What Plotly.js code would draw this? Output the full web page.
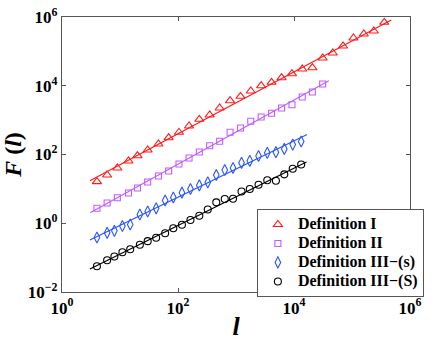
<!DOCTYPE html>
<html>
<head>
<meta charset="utf-8">
<script src="https://cdn.plot.ly/plotly-3.0.1.min.js"></script>
<style>
  html, body { margin: 0; padding: 0; background: #fff; }
  #chart { width: 436px; height: 341px; }
</style>
</head>
<body>
<div id="chart"></div>
<script>
// Definition I and II share the same window sizes
const xDef12 = [4, 6, 9, 14, 20, 30, 46, 69, 104, 155, 233, 352, 523, 791, 1195, 1797, 2716, 4103, 6107, 9220,
  13880, 20730, 31200, 46600, 70100, 106000, 160000, 238000, 360000];
const yDef1 = [16.2, 25.3, 40.5, 64.7, 92.3, 135, 202, 308, 443, 675, 1057, 1410, 2254, 3673, 4933, 7037, 10030,
  12600, 17150, 22420, 30700, 33500, 64200, 89700, 143300, 245000, 320000, 391500, 701000];
const yDef2 = [2.72, 3.88, 5.54, 7.59, 10.6, 15.8, 23.7, 33.1, 52.9, 79.1, 118, 180, 242, 443, 590, 925, 1233,
  1580, 2254, 2812, 4710, 6577, 11250];

// Definition III-(s) and III-(S)
const xDef3 = [4, 6, 8, 11, 15, 22, 30, 42, 60, 83, 117, 164, 233, 326, 457, 640, 888, 1246, 1729, 2447, 3461,
  4877, 6802, 9510, 13300];
const yDef3s = [0.385, 0.527, 0.603, 0.832, 0.920, 1.80, 2.20, 2.72, 4.59, 5.61, 7.74, 9.91, 12.7, 15.5, 25.3,
  35.4, 40.5, 57.4, 65.6, 90.4, 112, 117, 145, 195, 239];
const yDef3S = [0.0562, 0.0836, 0.108, 0.144, 0.176, 0.238, 0.301, 0.380, 0.514, 0.713, 0.908, 1.24, 1.65, 2.51,
  4.06, 5.07, 5.18, 8.39, 9.91, 13.2, 17.9, 17.3, 26.5, 38.6, 51.2];

// fitted power-law lines (end points)
const fit1X = [3.03, 476000], fit1Y = [17.3, 818000];
const fit2X = [3.06, 39900],  fit2Y = [2.03, 14030];
const fit3sX = [3.03, 16830], fit3sY = [0.326, 382];
const fit3SX = [3.03, 16440], fit3SY = [0.0467, 60.5];

// axis ticks
const xTickVals = [1, 100, 1e4, 1e6];
const xTickText = ['10<sup>0</sup>', '10<sup>2</sup>', '10<sup>4</sup>', '10<sup>6</sup>'];
const yTickVals = [0.01, 1, 100, 1e4, 1e6];
const yTickText = ['10<sup>\u22122</sup>', '10<sup>0</sup>', '10<sup>2</sup>', '10<sup>4</sup>', '10<sup>6</sup>'];

const names = ['Definition I', 'Definition II', 'Definition III\u2212(s)', 'Definition III\u2212(S)'];
const colors = ['#ff1a1a', '#c25cff', '#2a55ff', '#000000'];
const symbols = ['triangle-up-open', 'square-open', 'diamond-tall-open', 'circle-open'];
const sizes = [8, 6, 8, 7];

const pts = [[xDef12, yDef1], [xDef12.slice(0, yDef2.length), yDef2], [xDef3, yDef3s], [xDef3, yDef3S]];
const fits = [[fit1X, fit1Y], [fit2X, fit2Y], [fit3sX, fit3sY], [fit3SX, fit3SY]];

const serif = '"Liberation Serif", "Times New Roman", Times, serif';

const traces = [];
fits.forEach((f, i) => {
  traces.push({ x: f[0], y: f[1], mode: 'lines', line: { color: colors[i], width: 1.2 },
    showlegend: false, hoverinfo: 'skip' });
});
pts.forEach((p, i) => {
  // legend rows are tight in the original, so the text is enlarged inline
  traces.push({ x: p[0], y: p[1], name: '<span style="font-size:16px">' + names[i] + '</span>',
    mode: 'markers', type: 'scatter',
    marker: { symbol: symbols[i], size: sizes[i], color: colors[i], line: { width: 1.1, color: colors[i] } } });
});

const tickFont = { family: serif, size: 17, color: '#000', weight: 'bold' };
const axisBase = {
  type: 'log', showgrid: false, zeroline: false, showline: true, mirror: 'ticks',
  linecolor: '#555', linewidth: 1.2, ticks: 'inside', ticklen: 4, tickcolor: '#555',
  tickmode: 'array', tickfont: tickFont
};

Plotly.newPlot('chart', traces, {
  width: 436, height: 341,
  margin: { l: 62, r: 15, t: 17, b: 49 },
  paper_bgcolor: '#fff', plot_bgcolor: '#fff',
  xaxis: Object.assign({}, axisBase, { range: [0, 6], tickvals: xTickVals, ticktext: xTickText,
    title: { text: '<b><i>l</i></b>', standoff: 6,
      font: { family: serif, size: 26, color: '#000' } } }),
  yaxis: Object.assign({}, axisBase, { range: [-2, 6], tickvals: yTickVals, ticktext: yTickText,
    title: { text: '<b><i>F</i> (<i>l</i>)</b>', standoff: 4,
      font: { family: serif, size: 24, color: '#000' } } }),
  legend: {
    x: 0.56, y: 0.302, xanchor: 'left', yanchor: 'top',
    bgcolor: '#fff', bordercolor: '#555', borderwidth: 1,
    font: { family: serif, size: 12, color: '#000', weight: 'bold' },
    itemwidth: 30, tracegroupgap: 0
  },
  showlegend: true
}, { displayModeBar: false, staticPlot: true });
</script>
</body>
</html>
